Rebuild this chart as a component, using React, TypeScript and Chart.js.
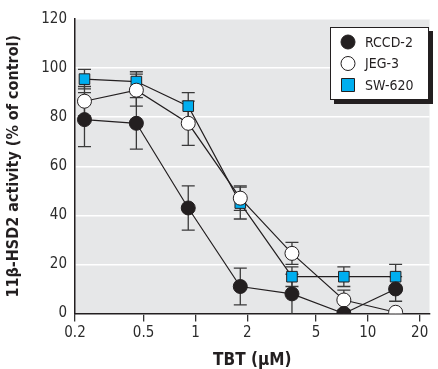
import React, { useEffect, useRef } from "react";
import { Chart, registerables } from "chart.js";

Chart.register(...registerables);

const doses = [0.227, 0.454, 0.908, 1.82, 3.63, 7.26, 14.5];
const xTicks = [0.2, 0.5, 1, 2, 5, 10, 20];
const yTicks = [0, 20, 40, 60, 80, 100, 120];

const seriesNames = ["RCCD-2", "JEG-3", "SW-620"];
const rccdValues = [79, 77.5, 43, 11, 8, 0, 10];
const rccdErrors = [11, 10.5, 9, 7.5, 8, 1, 5];
const jegValues = [86.5, 91, 77.5, 47, 24.5, 5.5, 0.5];
const jegErrors = [6, 6.5, 9, 5, 4.5, 4, 1];
const swValues = [95.5, 94.5, 84.5, 45, 15, 15, 15];
const swErrors = [4, 4, 5.5, 6.5, 4, 4, 5];

const FONT = "'Liberation Sans Narrow', 'DejaVu Sans Condensed', 'Liberation Sans', sans-serif";
const BLUE = "#00AEEF";
const INK = "#231f20";
const BG = "#e6e7e8";

const errorsByDataset = [rccdErrors, jegErrors, swErrors];

const bgPlugin = {
  id: "plotBg",
  beforeDraw(chart: any) {
    const { ctx, chartArea } = chart;
    ctx.save();
    ctx.fillStyle = BG;
    ctx.fillRect(chartArea.left, chartArea.top, chartArea.right - chartArea.left, chartArea.bottom - chartArea.top);
    ctx.restore();
  },
};

const errorBarPlugin = {
  id: "errorBars",
  beforeDatasetsDraw(chart: any) {
    const { ctx } = chart;
    const xs = chart.scales.x;
    const ys = chart.scales.y;
    ctx.save();
    ctx.strokeStyle = "#3a3a3a";
    ctx.lineWidth = 1.3;
    for (let d = chart.data.datasets.length - 1; d >= 0; d--) {
      const ds = chart.data.datasets[d];
      const errs = errorsByDataset[d];
      ds.data.forEach((p: any, i: number) => {
        const e = errs[i];
        if (!e) return;
        const x = xs.getPixelForValue(p.x);
        const y1 = ys.getPixelForValue(Math.min(120, p.y + e));
        const y2 = ys.getPixelForValue(Math.max(0, p.y - e));
        ctx.beginPath();
        ctx.moveTo(x, y1);
        ctx.lineTo(x, y2);
        ctx.moveTo(x - 6.5, y1);
        ctx.lineTo(x + 6.5, y1);
        if (p.y - e > 0) {
          ctx.moveTo(x - 6.5, y2);
          ctx.lineTo(x + 6.5, y2);
        }
        ctx.stroke();
      });
    }
    ctx.restore();
  },
};

const legendPlugin = {
  id: "boxLegend",
  afterDraw(chart: any) {
    const { ctx } = chart;
    const left = 330, top = 27, w = 99, h = 73;
    ctx.save();
    ctx.fillStyle = INK;
    ctx.fillRect(left + 4, top + 4, w, h);
    ctx.fillStyle = "#ffffff";
    ctx.fillRect(left, top, w, h);
    ctx.strokeStyle = INK;
    ctx.lineWidth = 1;
    ctx.strokeRect(left + 0.5, top + 0.5, w - 1, h - 1);
    const rows = [42, 63.5, 85];
    chart.data.datasets.forEach((ds: any, i: number) => {
      const cy = rows[i];
      const cx = 348;
      ctx.beginPath();
      ctx.lineWidth = 1;
      ctx.strokeStyle = INK;
      ctx.fillStyle = ds.pointBackgroundColor;
      if (ds.pointStyle === "rect") {
        ctx.rect(cx - 6.5, cy - 6.5, 13, 13);
      } else {
        ctx.arc(cx, cy, 7, 0, Math.PI * 2);
      }
      ctx.fill();
      ctx.stroke();
      ctx.fillStyle = INK;
      ctx.font = `14px ${FONT}`;
      ctx.textBaseline = "middle";
      ctx.textAlign = "left";
      ctx.fillText(ds.label, 365, cy + 1);
    });
    ctx.restore();
  },
};

function makePoints(values: number[]) {
  return values.map((v, i) => ({ x: doses[i], y: v }));
}

export default function App() {
  const ref = useRef<HTMLCanvasElement>(null);
  useEffect(() => {
    document.body.style.margin = "0";
    const canvas = ref.current!;
    const common = {
      borderColor: INK,
      borderWidth: 1.2,
      pointRadius: 7,
      pointHoverRadius: 7,
      pointBorderColor: INK,
      pointBorderWidth: 1,
      showLine: true,
      tension: 0,
    };
    const chart = new Chart(canvas, {
      type: "scatter",
      data: {
        datasets: [
          { ...common, label: seriesNames[0], data: makePoints(rccdValues), pointStyle: "circle", pointBackgroundColor: INK, backgroundColor: INK },
          { ...common, label: seriesNames[1], data: makePoints(jegValues), pointStyle: "circle", pointBackgroundColor: "#ffffff", backgroundColor: "#ffffff" },
          { ...common, label: seriesNames[2], data: makePoints(swValues), pointStyle: "rect", pointRadius: 7.5, pointBackgroundColor: BLUE, backgroundColor: BLUE },
        ] as any,
      },
      options: {
        animation: false,
        responsive: false,
        maintainAspectRatio: false,
        layout: { padding: { top: 19, right: 0, left: 0, bottom: 0 } },
        plugins: { legend: { display: false }, tooltip: { enabled: false } },
        scales: {
          x: {
            type: "logarithmic",
            min: 0.2,
            max: 22.8,
            afterBuildTicks: (scale: any) => {
              scale.ticks = xTicks.map((v) => ({ value: v }));
            },
            afterFit: (scale: any) => {
              scale.height = 55.5;
            },
            ticks: {
              autoSkip: false,
              maxRotation: 0,
              color: "#2b2b2b",
              font: { family: FONT, size: 15 },
              padding: 3,
              callback: (v: any) => String(v),
            },
            grid: { display: true, drawOnChartArea: false, drawTicks: true, tickLength: 8, color: "#333", lineWidth: 1.3 },
            border: { display: true, color: INK, width: 1.5 },
            title: {
              display: true,
              text: "TBT (μM)",
              color: INK,
              font: { family: FONT, size: 17, weight: "bold", lineHeight: 1 },
              padding: { top: 0, bottom: 0 },
            },
          },
          y: {
            min: 0,
            max: 120,
            afterBuildTicks: (scale: any) => {
              scale.ticks = yTicks.map((v) => ({ value: v }));
            },
            afterFit: (scale: any) => {
              scale.width = 75;
            },
            ticks: {
              color: "#2b2b2b",
              font: { family: FONT, size: 15 },
              padding: 8,
            },
            grid: { display: true, drawTicks: false, color: "#ffffff", lineWidth: 1.5 },
            border: { display: true, color: INK, width: 1.5 },
            title: {
              display: true,
              text: "11β-HSD2 activity (% of control)",
              color: INK,
              font: { family: FONT, size: 16, weight: "bold" },
              padding: { top: 4, bottom: 0 },
            },
          },
        },
      } as any,
      plugins: [bgPlugin, errorBarPlugin, legendPlugin],
    });
    return () => chart.destroy();
  }, []);
  return (
    <div style={{ width: 438, height: 369, background: "#fff" }}>
      <canvas ref={ref} width={438} height={369} style={{ display: "block" }} />
    </div>
  );
}
